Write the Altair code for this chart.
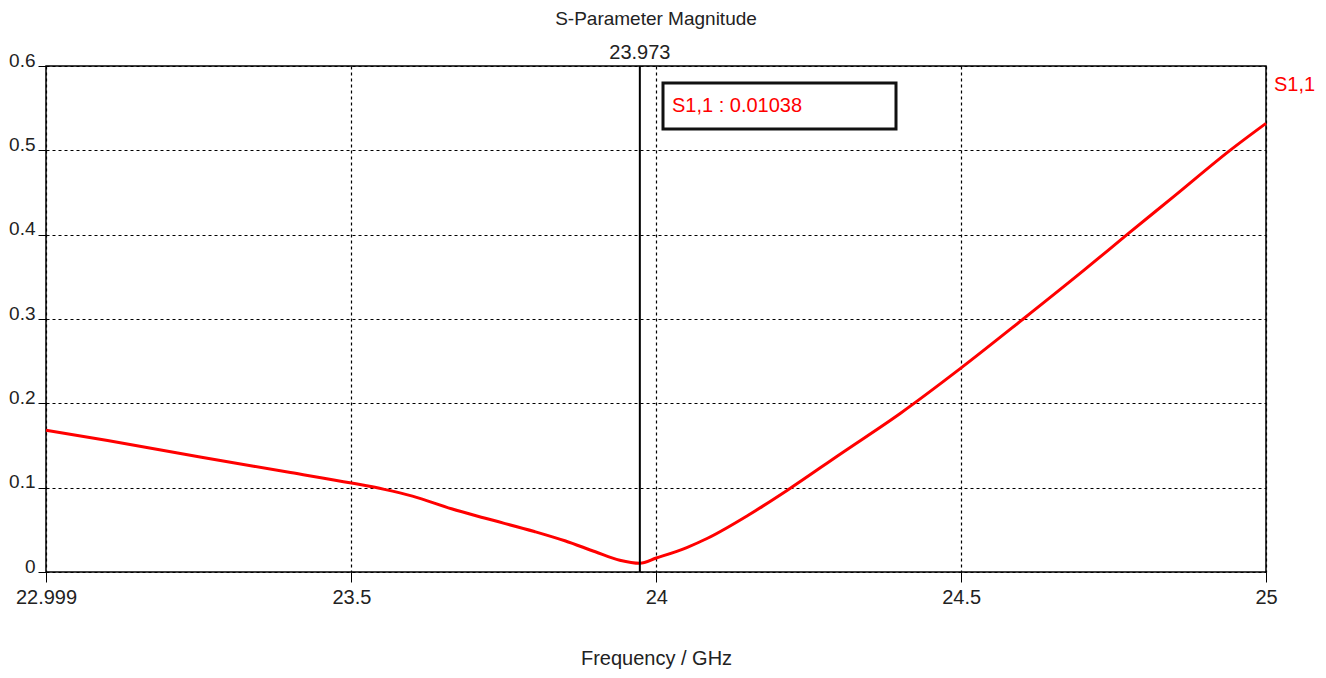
import altair as alt
import pandas as pd

# S1,1 magnitude
freq_ghz = [22.999, 23.1, 23.254, 23.4, 23.5, 23.554, 23.6, 23.664, 23.718, 23.8, 23.85,
            23.9, 23.94, 23.973, 24.0, 24.05, 24.084, 24.15, 24.215, 24.302,
            24.4, 24.5, 24.6, 24.7, 24.772, 24.85, 24.941, 25.0]
s11_mag = [0.168, 0.156, 0.136, 0.118, 0.1055, 0.098, 0.090, 0.075, 0.064, 0.048, 0.037,
           0.024, 0.014, 0.0104, 0.0166, 0.029, 0.040, 0.067, 0.097, 0.140,
           0.188, 0.242, 0.299, 0.357, 0.400, 0.446, 0.500, 0.532]

marker_freq = [23.973]
marker_text = ["23.973"]
marker_readout = ["S1,1 : 0.01038"]
series_name = ["S1,1"]

x_ticks = [22.999, 23.5, 24, 24.5, 25]
y_ticks = [0, 0.1, 0.2, 0.3, 0.4, 0.5, 0.6]

FONT = "Liberation Sans, Arial, sans-serif"
TXT = "#222222"

df = pd.DataFrame({"f": freq_ghz, "s": s11_mag})
mk = pd.DataFrame({"f": marker_freq, "label": marker_text, "readout": marker_readout})
nm = pd.DataFrame({"name": series_name})

xscale = alt.Scale(domain=[22.999, 25], nice=False, zero=False)
yscale = alt.Scale(domain=[0, 0.6], nice=False)

line = alt.Chart(df).mark_line(color="#ff0000", strokeWidth=3, interpolate="monotone").encode(
    x=alt.X("f:Q", scale=xscale,
            axis=alt.Axis(title="Frequency / GHz", values=x_ticks, format=".3~f",
                          grid=True, gridDash=[3, 3], gridColor="black", gridOpacity=1,
                          gridWidth=1.2, tickSize=10, tickColor="black",
                          labelPadding=5, titlePadding=41, domain=False,
                          labelFlush=False)),
    y=alt.Y("s:Q", scale=yscale,
            axis=alt.Axis(title=None, values=y_ticks, format=".1~f",
                          grid=True, gridDash=[3, 3], gridColor="black", gridOpacity=1,
                          gridWidth=1.2, tickSize=8, tickColor="black",
                          labelBaseline="alphabetic", labelPadding=3, labelFontSize=19,
                          domain=False, labelFlush=False)),
)

rule = alt.Chart(mk).mark_rule(color="black", strokeWidth=2).encode(x="f:Q")

rule_label = alt.Chart(mk).mark_text(
    font=FONT, fontSize=20, color=TXT, baseline="bottom", dy=-3
).encode(x="f:Q", y=alt.value(0), text="label:N")

box = alt.Chart(mk).mark_rect(fill="white", stroke="#111111", strokeWidth=3).encode(
    x=alt.value(617), x2=alt.value(850), y=alt.value(17), y2=alt.value(63)
)

readout = alt.Chart(mk).mark_text(
    font=FONT, fontSize=20, color="#ff0000", align="left", baseline="middle"
).encode(x=alt.value(626), y=alt.value(40), text="readout:N")

legend_txt = alt.Chart(nm).mark_text(
    font=FONT, fontSize=20, color="#ff0000", align="left", baseline="middle"
).encode(x=alt.value(1228), y=alt.value(19), text="name:N")

chart = alt.layer(line, rule, rule_label, box, readout, legend_txt).properties(
    width=1220, height=506,
    title=alt.TitleParams("S-Parameter Magnitude", anchor="middle", font=FONT,
                          fontSize=19, fontWeight="normal", color=TXT, offset=14),
    autosize=alt.AutoSizeParams(type="none"),
    padding={"left": 38, "top": 58, "right": 52, "bottom": 98},
).configure(background="white").configure_view(
    stroke="black", strokeWidth=1.5
).configure_axis(
    labelFont=FONT, labelFontSize=20, labelColor=TXT,
    titleFont=FONT, titleFontSize=20, titleFontWeight="normal", titleColor=TXT,
)

chart.save("out.html", embed_options={"renderer": "svg", "actions": False})
